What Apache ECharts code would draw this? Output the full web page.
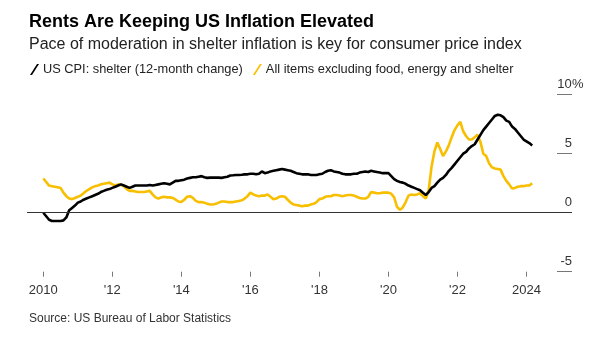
<!DOCTYPE html>
<html>
<head>
<meta charset="utf-8">
<script src="https://cdn.jsdelivr.net/npm/echarts@6/dist/echarts.min.js"></script>
<style>
html,body{margin:0;padding:0;background:#fff;}
#chart{width:605px;height:342px;}
</style>
</head>
<body>
<div id="chart"></div>
<script>
// Monthly data, Jan 2010 .. Mar 2024
var startYear = 2010;
var shelter = [
  0.0,-0.3,-0.6,-0.7,-0.7,-0.7,-0.7,-0.65,-0.4,0.2,0.4,0.6,
  0.85,0.95,1.1,1.2,1.3,1.4,1.5,1.6,1.75,1.85,1.95,2.0,
  2.1,2.2,2.3,2.4,2.3,2.2,2.1,2.2,2.3,2.3,2.3,2.3,
  2.3,2.35,2.3,2.35,2.4,2.45,2.5,2.45,2.4,2.55,2.7,2.7,
  2.75,2.8,2.9,2.95,3.0,3.0,3.05,3.1,3.0,2.95,2.97,2.97,
  2.97,2.97,2.95,3.0,3.05,3.15,3.17,3.2,3.2,3.22,3.25,3.25,
  3.3,3.3,3.25,3.3,3.5,3.35,3.4,3.5,3.55,3.6,3.65,3.7,
  3.65,3.6,3.55,3.45,3.35,3.3,3.25,3.25,3.25,3.2,3.2,3.2,
  3.25,3.3,3.45,3.55,3.6,3.5,3.45,3.4,3.3,3.25,3.25,3.25,
  3.3,3.3,3.4,3.45,3.5,3.45,3.55,3.5,3.45,3.4,3.35,3.35,
  3.35,3.1,2.85,2.7,2.6,2.55,2.45,2.3,2.2,2.1,2.0,1.9,
  1.7,1.5,1.75,2.1,2.25,2.55,2.8,2.95,3.2,3.55,3.8,4.1,
  4.4,4.7,5.0,5.15,5.45,5.65,5.8,6.2,6.6,7.0,7.3,7.6,
  7.9,8.2,8.3,8.25,8.1,7.8,7.7,7.3,7.1,6.8,6.5,6.2,
  6.05,5.9,5.7
];
var coreExShelter = [
  2.9,2.6,2.3,2.25,2.2,2.15,2.1,1.7,1.4,1.2,1.15,1.25,
  1.35,1.45,1.65,1.85,2.0,2.15,2.25,2.3,2.4,2.45,2.5,2.55,
  2.4,2.3,2.4,2.35,2.25,2.0,1.85,1.85,1.8,1.75,1.75,1.75,
  1.8,1.85,1.55,1.3,1.2,1.3,1.35,1.3,1.3,1.25,1.1,0.95,
  0.9,1.1,1.35,1.4,1.25,1.0,0.9,0.9,0.85,0.75,0.7,0.7,
  0.75,0.85,0.95,0.95,0.9,0.9,0.9,0.95,1.0,1.05,1.2,1.4,
  1.7,1.55,1.45,1.4,1.45,1.45,1.55,1.35,1.15,1.2,1.35,1.4,
  1.35,1.1,0.85,0.7,0.65,0.6,0.55,0.6,0.6,0.7,0.75,0.9,
  1.15,1.2,1.35,1.4,1.4,1.5,1.5,1.45,1.4,1.45,1.5,1.5,
  1.45,1.35,1.25,1.2,1.2,1.35,1.75,1.7,1.65,1.65,1.7,1.7,
  1.7,1.6,1.3,0.5,0.25,0.45,0.9,1.45,1.55,1.5,1.55,1.65,
  1.4,1.2,1.9,3.9,5.2,5.95,5.4,4.8,5.2,5.7,6.4,7.0,
  7.4,7.7,6.9,6.5,6.2,6.2,6.4,6.6,6.0,5.0,4.8,4.2,
  3.85,3.75,3.7,3.65,3.1,2.7,2.4,2.05,2.1,2.2,2.25,2.25,
  2.3,2.3,2.5
];
var xTicks = [2010, 2012, 2014, 2016, 2018, 2020, 2022, 2024];
var xTickLabels = ['2010', "'12", "'14", "'16", "'18", "'20", "'22", '2024'];
var seriesNames = ['US CPI: shelter (12-month change)', 'All items excluding food, energy and shelter'];

function toPairs(arr) {
  return arr.map(function (v, i) { return [startYear + i / 12, v]; });
}

var FONT = '"Liberation Sans", Arial, sans-serif';
var chart = echarts.init(document.getElementById('chart'), null, {renderer: 'canvas'});
chart.setOption({
  animation: false,
  backgroundColor: '#fff',
  textStyle: {fontFamily: FONT},
  title: [
    {text: 'Rents Are Keeping US Inflation Elevated', left: 24, top: 8,
     textStyle: {fontFamily: FONT, fontSize: 18, fontWeight: 'bold', color: '#000'}},
    {text: 'Pace of moderation in shelter inflation is key for consumer price index', left: 24, top: 32,
     textStyle: {fontFamily: FONT, fontSize: 16, fontWeight: 'normal', color: '#222'}},
    {text: 'Source: US Bureau of Labor Statistics', left: 24, top: 308,
     textStyle: {fontFamily: FONT, fontSize: 12, fontWeight: 'normal', color: '#333'}}
  ],
  legend: {
    left: 25, top: 58,
    itemWidth: 9, itemHeight: 11, itemGap: 10,
    icon: 'path://M0,11 L7,0 L9,0 L2,11 Z',
    textStyle: {fontFamily: FONT, fontSize: 12.8, color: '#222', padding: [0, 0, 0, -1]},
    data: seriesNames
  },
  grid: {left: 27, right: 33, top: 94.7, bottom: 70.3, containLabel: false},
  xAxis: {
    type: 'value', min: 2009.527, max: 2025.32,
    axisLine: {show: false, onZero: false},
    splitLine: {show: false},
    axisTick: {show: true, length: 5, customValues: xTicks, lineStyle: {color: '#777'}},
    axisLabel: {customValues: xTicks, margin: 12, fontSize: 13, color: '#333', fontFamily: FONT,
      formatter: function (v) { var i = xTicks.indexOf(Math.round(v)); return i >= 0 ? xTickLabels[i] : ''; }}
  },
  yAxis: {
    type: 'value', position: 'right', min: -5, max: 10, interval: 5,
    axisLine: {show: false},
    splitLine: {show: false},
    axisTick: {show: true, inside: true, length: 15, lineStyle: {color: '#777'}},
    axisLabel: {inside: true, margin: 15, align: 'left', verticalAlign: 'bottom', padding: [0, 0, 4, 0],
      fontSize: 13, color: '#333', fontFamily: FONT,
      formatter: function (v) { return v === 10 ? '{n|10}{p|%}' : '{n|' + v + '}'; },
      rich: {n: {width: 15, align: 'right', fontSize: 13, color: '#333', fontFamily: FONT},
             p: {fontSize: 13, color: '#333', fontFamily: FONT}}}
  },
  series: [
    {name: seriesNames[0], type: 'line', data: toPairs(shelter), showSymbol: false, symbol: 'none',
     lineStyle: {color: '#000', width: 2.6}, itemStyle: {color: '#000'}, z: 3,
     markLine: {silent: true, symbol: 'none', label: {show: false},
       lineStyle: {color: '#333', width: 1, type: 'solid'}, data: [{yAxis: 0}]}},
    {name: seriesNames[1], type: 'line', data: toPairs(coreExShelter), showSymbol: false, symbol: 'none',
     lineStyle: {color: '#f8bf00', width: 2.6}, itemStyle: {color: '#f8bf00'}, z: 2}
  ]
});
</script>
</body>
</html>
